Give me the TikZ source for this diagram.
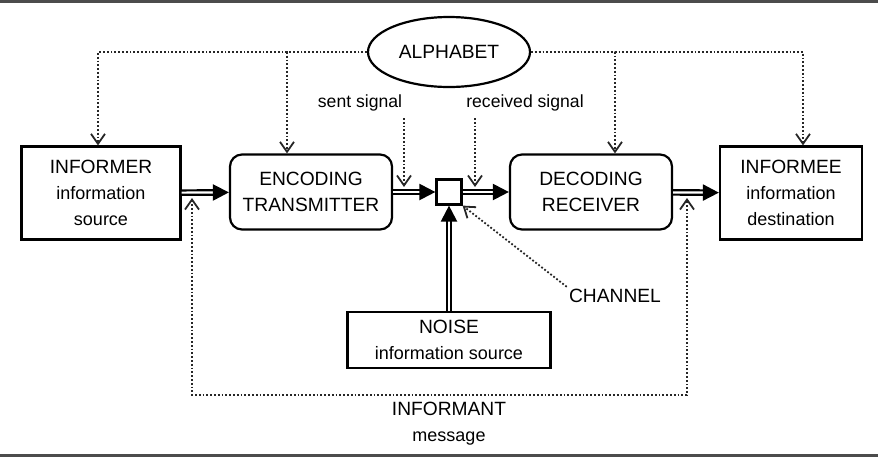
\documentclass[tikz,border=0pt]{standalone}
\usepackage{fontspec}
\setmainfont{Liberation Sans}
\usetikzlibrary{shapes.geometric, arrows.meta, positioning}

\begin{document}
\begin{tikzpicture}[x=0.5pt, y=-0.5pt,
  capfont/.style={font=\fontsize{9.6}{13}\selectfont},
  box/.style={rectangle, draw=black, line width=1.1pt, align=center, capfont, inner sep=2pt},
  rbox/.style={box, rounded corners=6pt, minimum width=81pt, minimum height=37.5pt},
  lbl/.style={font=\fontsize{8.8}{12}\selectfont, inner sep=1pt},
  small/.style={font=\fontsize{8.8}{13}\selectfont},
  barb/.tip={Straight Barb[length=5pt, width=7pt, line width=0.9pt]},
  dotarr/.style={densely dotted, line width=0.9pt, draw=black!85, -barb},
  dblarr/.style={double, double distance=1.1pt, line width=1.1pt, -{Triangle[length=8pt, width=8pt]}}
]
\useasboundingbox (0,0) rectangle (878,456);
\draw[line width=1.5pt, black!70] (0,1) -- (878,1);
\draw[line width=1.5pt, black!70] (0,455) -- (878,455);

\node[ellipse, draw, line width=1.1pt, minimum width=81pt, minimum height=35pt, capfont] (alpha) at (449,52) {ALPHABET};
\node[box, minimum width=79.5pt, minimum height=46.5pt] (informer) at (101,193) {INFORMER\\{\small information}\\{\small source}};
\node[rbox] (encoder) at (311,192) {ENCODING\\TRANSMITTER};
\node[box, minimum size=12.5pt, inner sep=0pt] (chan) at (449,192) {};
\node[rbox] (decoder) at (591,192) {DECODING\\RECEIVER};
\node[box, minimum width=71pt, minimum height=46.5pt] (informee) at (791,193) {INFORMEE\\{\small information}\\{\small destination}};
\node[box, minimum width=101.5pt, minimum height=28pt] (noise) at (449,340) {NOISE\\{\small information source}};
\node[lbl] (sent) at (360,103) {sent signal};
\node[lbl] (recv) at (525,103) {received signal};
\node[capfont, inner sep=1pt] (chanlbl) at (615,296) {CHANNEL};
\node[capfont, align=center, inner sep=1pt] (informant) at (449,424) {INFORMANT\\{\small message}};

\draw[dotarr] (alpha.west) -| ([xshift=-1.5pt]informer.north);
\draw[dotarr] (alpha.west) -| ([xshift=-12pt]encoder.north);
\draw[dotarr] (alpha.east) -| ([xshift=12pt]decoder.north);
\draw[dotarr] (alpha.east) -| ([xshift=6pt]informee.north);

\coordinate (s1) at (404,118);
\coordinate (s2) at (404,187);
\coordinate (r1) at (475,118);
\coordinate (r2) at (475,187);
\draw[dotarr] (s1) -- (s2);
\draw[dotarr] (r1) -- (r2);

\draw[dblarr] (informer) -- (encoder);
\draw[dblarr] (encoder) -- (chan);
\draw[dblarr] (chan) -- (decoder);
\draw[dblarr] (decoder) -- (informee);
\draw[dblarr] (noise) -- (chan);

\draw[dotarr] (chanlbl.north west) -- (chan.south east);

\coordinate (fbl) at (192,198);
\coordinate (fbb) at (449,395);
\coordinate (fbr) at (687,198);
\draw[dotarr, barb-barb] (fbl) |- (fbb) -| (fbr);
\end{tikzpicture}
\end{document}
